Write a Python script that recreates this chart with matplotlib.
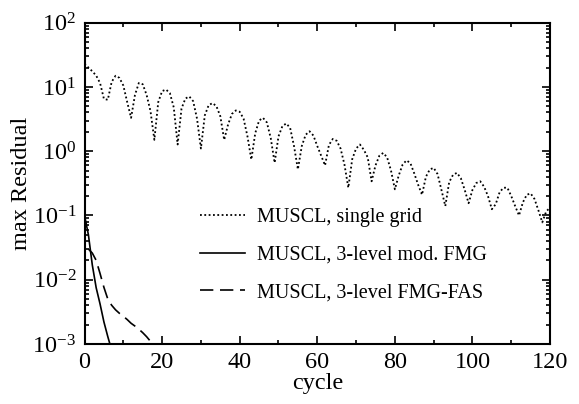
import matplotlib
matplotlib.use("Agg")
import matplotlib.pyplot as plt
import numpy as np
from matplotlib.ticker import LogLocator, MultipleLocator, FixedLocator, FixedFormatter, NullFormatter

# ---- data -------------------------------------------------------------
single_cycle = list(range(0, 121))
single_res = [
    23, 20, 17.5, 15, 11.5, 6.5, 6.3, 12, 14.9, 13.8,
    10.5, 5.8, 3.3, 7.5, 11.5, 11, 7.5, 4.2, 1.5, 5.8,
    8.6, 9.1, 8.0, 4.8, 1.27, 4.6, 6.6, 7.1, 6.0, 3.2,
    1.1, 3.6, 5.2, 5.6, 5.0, 3.5, 1.5, 2.6, 3.8, 4.3,
    4.1, 3.2, 1.7, 0.74, 1.9, 3.0, 3.3, 2.8, 1.6, 0.66,
    1.7, 2.45, 2.7, 2.3, 1.2, 0.52, 1.2, 1.8, 2.04, 1.75,
    1.2, 0.85, 0.6, 1.25, 1.55, 1.45, 1.1, 0.62, 0.27, 0.75,
    1.1, 1.27, 1.05, 0.8, 0.34, 0.6, 0.85, 0.94, 0.8, 0.5,
    0.255, 0.42, 0.62, 0.72, 0.65, 0.45, 0.3, 0.21, 0.4, 0.52,
    0.55, 0.44, 0.25, 0.14, 0.33, 0.43, 0.46, 0.38, 0.25, 0.155,
    0.25, 0.32, 0.34, 0.28, 0.2, 0.125, 0.15, 0.23, 0.27, 0.27,
    0.2, 0.14, 0.1, 0.16, 0.21, 0.22, 0.18, 0.12, 0.078, 0.115,
    0.133,
]

fmg_cycle = [0, 1, 2, 3, 4, 5, 6, 7]
fmg_res = [0.1, 0.05, 0.017, 0.0075, 0.0042, 0.0022, 0.0013, 0.0008]

fas_cycle = [1, 2, 3, 4, 5, 6, 7, 8, 9, 10, 11, 12, 13, 14, 15, 16, 17, 18]
fas_res = [0.03, 0.026, 0.02, 0.0125, 0.0076, 0.0050, 0.0040, 0.0034, 0.0030,
           0.0027, 0.0024, 0.0021, 0.0019, 0.0017, 0.0015, 0.0013, 0.0011, 0.00088]

labels = ["MUSCL, single grid", "MUSCL, 3-level mod. FMG", "MUSCL, 3-level FMG-FAS"]

x_ticks = [0, 20, 40, 60, 80, 100, 120]
y_ticks = [1e-3, 1e-2, 1e-1, 1e0, 1e1, 1e2]
y_tick_labels = ["10$^{-3}$", "10$^{-2}$", "10$^{-1}$", "10$^{0}$", "10$^{1}$", "10$^{2}$"]

# ---- style ------------------------------------------------------------
plt.rcParams["font.family"] = ["Liberation Serif", "DejaVu Serif"]
plt.rcParams["mathtext.fontset"] = "custom"
plt.rcParams["mathtext.rm"] = "Liberation Serif"
plt.rcParams["mathtext.it"] = "Liberation Serif:italic"
plt.rcParams["mathtext.bf"] = "Liberation Serif:bold"

fig = plt.figure(figsize=(5.79, 4.04), dpi=100)
ax = fig.add_axes([0.146, 0.1485, 0.804, 0.7955])

ax.plot(single_cycle, single_res, color="black", lw=1.3, linestyle=(0, (1, 1.4)),
        label=labels[0])
ax.plot(fmg_cycle, fmg_res, color="black", lw=1.2, linestyle="-", label=labels[1])
ax.plot(fas_cycle, fas_res, color="black", lw=1.2, linestyle=(0, (8, 4)), label=labels[2])

ax.set_yscale("log")
ax.set_xlim(0, 120)
ax.set_ylim(1e-3, 1e2)

ax.xaxis.set_major_locator(FixedLocator(x_ticks))
ax.xaxis.set_minor_locator(MultipleLocator(10))
ax.yaxis.set_major_locator(FixedLocator(y_ticks))
ax.yaxis.set_major_formatter(FixedFormatter(y_tick_labels))
ax.yaxis.set_minor_locator(LogLocator(base=10, subs=np.arange(2, 10), numticks=20))
ax.yaxis.set_minor_formatter(NullFormatter())

ax.tick_params(which="both", direction="in", top=True, right=True, width=1.2,
               labelsize=17.5, colors="black")
ax.tick_params(which="major", length=5.5, pad=6)
ax.tick_params(which="minor", length=2.8)
for s in ax.spines.values():
    s.set_linewidth(1.5)

ax.set_xlabel("cycle", fontsize=17.5, labelpad=0)
ax.set_ylabel("max Residual", fontsize=17.5)
ax.yaxis.set_label_coords(-0.112, 0.5)

leg = ax.legend(loc="upper left", bbox_to_anchor=(0.248, 0.423), frameon=False,
                fontsize=14.5, handlelength=2.25, handletextpad=0.6,
                labelspacing=0.92, borderpad=0, borderaxespad=0)

fig.savefig("out.png", dpi=100)
